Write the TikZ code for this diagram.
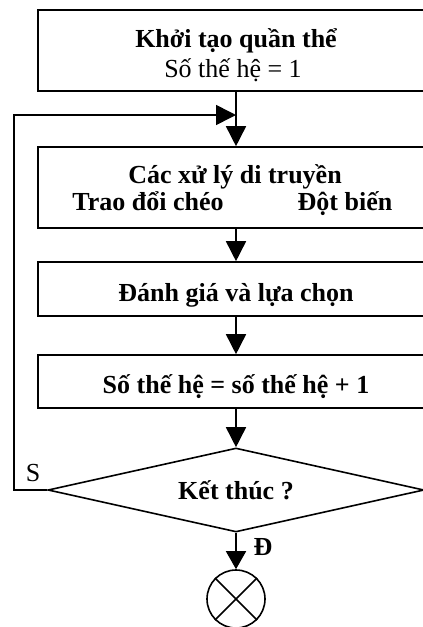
\documentclass[tikz,border=0pt]{standalone}
\usepackage{fontspec}
\setmainfont{Liberation Serif}
\usetikzlibrary{arrows.meta,shapes.geometric}
\begin{document}
\begin{tikzpicture}[x=1pt,y=-1pt,line width=1.6pt,
  every node/.style={font=\fontsize{26}{30}\selectfont},
  box/.style={draw,minimum width=396pt,inner sep=0pt,align=center},
  bf/.style={font=\fontsize{26}{30}\selectfont\bfseries},
  txt/.style={inner sep=0pt,anchor=base},
  arr/.style={-{Triangle[length=20pt,width=20pt]}}]
\useasboundingbox (0,0) rectangle (423,627);
\clip (0,0) rectangle (423,627);
\node[box,minimum height=81pt] (b1) at (236,50.5) {};
\node[txt,bf] (t1a) at (236,47) {Khởi tạo quần thể};
\node[txt] (t1b) at (233,77) {Số thế hệ = 1};
\node[box,minimum height=81pt] (b2) at (236,187.5) {};
\node[txt,bf] (t2a) at (235,183) {Các xử lý di truyền};
\node[txt,bf] (t2b) at (148,210) {Trao đổi chéo};
\node[txt,bf] (t2c) at (345,210) {Đột biến};
\node[box,minimum height=54pt,bf,text height=24pt,text depth=0pt] (b3) at (236,289) {Đánh giá và lựa chọn};
\node[box,minimum height=53pt,bf,text height=23pt,text depth=0pt] (b4) at (236,381.5) {Số thế hệ = số thế hệ + 1};
\node[draw,diamond,aspect=4.5,minimum width=376pt,minimum height=84pt,inner sep=0pt,bf,text height=18pt,text depth=0pt] (d) at (236,490) {Kết thúc ?};
\node[draw,circle,minimum size=58pt,inner sep=0pt] (c) at (236,599) {};
\draw (c.45) -- (c.225) (c.135) -- (c.315);
\coordinate (lc) at (14,115);
\coordinate (join) at (236,115);
\draw[arr] (b1) -- (b2);
\draw[arr] (d.west) -| (lc) -- (join);
\draw[arr] (b2) -- (b3);
\draw[arr] (b3) -- (b4);
\draw[arr] (b4) -- (d);
\draw[-{Triangle[length=18pt,width=20pt]}] (d.south) -- (c.north);
\node[txt] (s) at (33,481) {S};
\node[txt,bf] (dd) at (263,555) {Đ};
\end{tikzpicture}
\end{document}
